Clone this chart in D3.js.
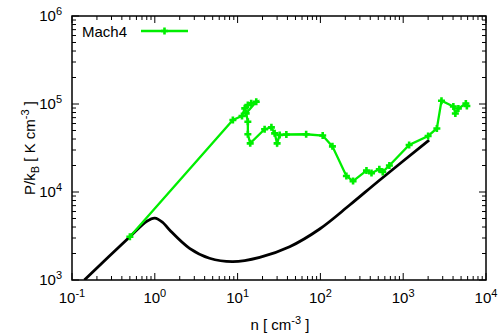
<!DOCTYPE html>
<html>
<head>
<meta charset="utf-8">
<script src="https://cdn.jsdelivr.net/npm/d3@7"></script>
<style>
  body { margin: 0; background: #fff; }
  svg { display: block; font-family: "Liberation Sans", Arial, sans-serif; }
</style>
</head>
<body>
<div id="chart"></div>
<script>
// equilibrium curve (black)
const eqDensity = [0.141, 0.5, 0.8, 1.0, 1.25, 1.51, 2.63, 4.58, 8.77, 18.5, 42.5, 98, 226, 522, 2056];
const eqPressure = [1000, 3100, 4650, 5050, 4500, 3700, 2290, 1765, 1615, 1810, 2390, 3800, 7110, 13700, 38900];

// Mach4 track (green)
const machDensity = [0.5, 8.77, 11.3, 12.2, 13.3, 14.6, 16.8, 12.7, 13.3, 13.3, 14.2, 21.2, 25.6, 28.0, 30.0, 32.2, 38.8,
  67.3, 106.6, 139.7, 206, 248, 360, 414, 515, 566, 681, 1180, 2000, 2550, 2900, 4035, 4265, 4640, 5710, 5875];
const machPressure = [3100, 65800, 73100, 89300, 97500, 101800, 106100, 78300, 62900, 45300, 35700, 51700, 54300, 46400, 35700, 44500, 45000,
  45300, 43800, 33000, 15200, 13300, 17500, 16400, 18100, 16900, 20000, 34200, 43300, 52700, 109000, 93800, 78000, 88900, 101400, 94800];

const xDecades = [-1, 0, 1, 2, 3, 4];
const yDecades = [3, 4, 5, 6];

const width = 498, height = 334;
const margin = { top: 16, right: 12, bottom: 54, left: 72 };
const green = '#00ee00';

const svg = d3.select('#chart').append('svg')
  .attr('width', width)
  .attr('height', height);

const x = d3.scaleLog().domain([0.1, 1e4]).range([margin.left, width - margin.right]);
const y = d3.scaleLog().domain([1e3, 1e6]).range([height - margin.bottom, margin.top]);

const x0 = x.range()[0], x1 = x.range()[1];
const y0 = y.range()[0], y1 = y.range()[1];

svg.append('clipPath').attr('id', 'clip')
  .append('rect')
  .attr('x', x0).attr('y', y1)
  .attr('width', x1 - x0).attr('height', y0 - y1);

// ticks (inward, mirrored)
const minorOf = decades => {
  const out = [];
  decades.slice(0, -1).forEach(d => {
    for (let k = 2; k <= 9; k++) out.push(k * Math.pow(10, d));
  });
  return out;
};
const xTicks = xDecades.map(d => ({ v: Math.pow(10, d), len: 7 }))
  .concat(minorOf(xDecades).map(v => ({ v, len: 4 })));
const yTicks = yDecades.map(d => ({ v: Math.pow(10, d), len: 7 }))
  .concat(minorOf(yDecades).map(v => ({ v, len: 4 })));

const tickG = svg.append('g').attr('stroke', '#000').attr('stroke-width', 1);
tickG.selectAll('.xb').data(xTicks).enter().append('line')
  .attr('x1', d => x(d.v)).attr('x2', d => x(d.v))
  .attr('y1', y0).attr('y2', d => y0 - d.len);
tickG.selectAll('.xt').data(xTicks).enter().append('line')
  .attr('x1', d => x(d.v)).attr('x2', d => x(d.v))
  .attr('y1', y1).attr('y2', d => y1 + d.len);
tickG.selectAll('.yl').data(yTicks).enter().append('line')
  .attr('y1', d => y(d.v)).attr('y2', d => y(d.v))
  .attr('x1', x0).attr('x2', d => x0 + d.len);
tickG.selectAll('.yr').data(yTicks).enter().append('line')
  .attr('y1', d => y(d.v)).attr('y2', d => y(d.v))
  .attr('x1', x1).attr('x2', d => x1 - d.len);

// frame
svg.append('rect')
  .attr('x', x0).attr('y', y1)
  .attr('width', x1 - x0).attr('height', y0 - y1)
  .attr('fill', 'none').attr('stroke', '#000').attr('stroke-width', 1.5);

// tick labels
const xl = svg.append('g').attr('font-size', 15).attr('fill', '#000');
xDecades.forEach(d => {
  const t = xl.append('text')
    .attr('x', x(Math.pow(10, d)))
    .attr('y', y0 + 23)
    .attr('text-anchor', 'middle');
  t.append('tspan').text('10');
  t.append('tspan').attr('dy', -6).attr('font-size', 11).text(d);
});

const yl = svg.append('g').attr('font-size', 15).attr('fill', '#000');
yDecades.forEach(d => {
  const t = yl.append('text')
    .attr('x', x0 - 10)
    .attr('y', y(Math.pow(10, d)) + 5)
    .attr('text-anchor', 'end');
  t.append('tspan').text('10');
  t.append('tspan').attr('dy', -6).attr('font-size', 11).text(d);
});

// axis titles
const xt = svg.append('text')
  .attr('x', (x0 + x1) / 2 + 1)
  .attr('y', height - 4)
  .attr('text-anchor', 'middle')
  .attr('font-size', 15);
xt.append('tspan').text('n [ cm');
xt.append('tspan').attr('dy', -6).attr('font-size', 11).text('-3');
xt.append('tspan').attr('dy', 6).text(' ]');

const yt = svg.append('text')
  .attr('transform', `translate(35, ${(y0 + y1) / 2}) rotate(-90)`)
  .attr('text-anchor', 'middle')
  .attr('font-size', 15);
yt.append('tspan').text('P/k');
yt.append('tspan').attr('dy', 4).attr('font-size', 11).text('B');
yt.append('tspan').attr('dy', -4).text(' [ K cm');
yt.append('tspan').attr('dy', -6).attr('font-size', 11).text('-3');
yt.append('tspan').attr('dy', 6).text(' ]');

// curves
const plot = svg.append('g').attr('clip-path', 'url(#clip)');

const eqData = eqDensity.map((n, i) => [n, eqPressure[i]]);
plot.append('path')
  .datum(eqData)
  .attr('fill', 'none')
  .attr('stroke', '#000')
  .attr('stroke-width', 2.8)
  .attr('stroke-linejoin', 'round')
  .attr('d', d3.line().x(d => x(d[0])).y(d => y(d[1])).curve(d3.curveCatmullRom.alpha(0.5)));

const machData = machDensity.map((n, i) => [n, machPressure[i]]);
plot.append('path')
  .datum(machData)
  .attr('fill', 'none')
  .attr('stroke', green)
  .attr('stroke-width', 2.3)
  .attr('d', d3.line().x(d => x(d[0])).y(d => y(d[1])));

const plusPath = 'M-3.5,0H3.5M0,-3.5V3.5';
plot.selectAll('.pt').data(machData).enter().append('path')
  .attr('class', 'pt')
  .attr('transform', d => `translate(${x(d[0])},${y(d[1])})`)
  .attr('d', plusPath)
  .attr('stroke', green)
  .attr('stroke-width', 2.6)
  .attr('fill', 'none');

// legend
const lg = svg.append('g');
lg.append('text')
  .attr('x', 82).attr('y', 37)
  .attr('font-size', 15)
  .text('Mach4');
lg.append('line')
  .attr('x1', 141).attr('x2', 188)
  .attr('y1', 31).attr('y2', 31)
  .attr('stroke', green).attr('stroke-width', 2.3);
lg.append('path')
  .attr('transform', 'translate(164.5,31)')
  .attr('d', plusPath)
  .attr('stroke', green).attr('stroke-width', 2.6);
</script>
</body>
</html>
